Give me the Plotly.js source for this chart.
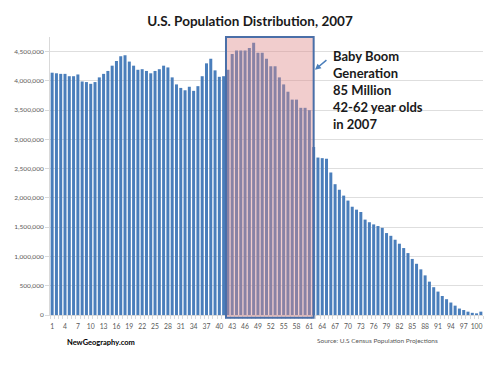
<!DOCTYPE html>
<html>
<head>
<meta charset="utf-8">
<script src="https://cdn.plot.ly/plotly-3.0.1.min.js"></script>
<style>html,body{margin:0;padding:0;background:#fff;}#chart{width:504px;height:366px;}</style>
</head>
<body>
<div id="chart"></div>
<script>
// Age categories (1..101)
const ages = [1,2,3,4,5,6,7,8,9,10,11,12,13,14,15,16,17,18,19,20,
  21,22,23,24,25,26,27,28,29,30,31,32,33,34,35,36,37,38,39,40,
  41,42,43,44,45,46,47,48,49,50,51,52,53,54,55,56,57,58,59,60,
  61,62,63,64,65,66,67,68,69,70,71,72,73,74,75,76,77,78,79,80,
  81,82,83,84,85,86,87,88,89,90,91,92,93,94,95,96,97,98,99,100,101];

// Population by age, 2007
const population = [
  4140000,4130000,4120000,4120000,4080000,4080000,4110000,3990000,3980000,3950000,
  3980000,4060000,4120000,4170000,4260000,4340000,4420000,4440000,4330000,4260000,
  4190000,4200000,4170000,4130000,4170000,4200000,4260000,4230000,4060000,3940000,
  3880000,3840000,3900000,3830000,3910000,4080000,4300000,4380000,4180000,4070000,
  4080000,4190000,4460000,4520000,4520000,4520000,4560000,4650000,4480000,4480000,
  4380000,4250000,4250000,4060000,3940000,3815000,3680000,3680000,3540000,3540000,
  3500000,2870000,2690000,2680000,2670000,2435000,2235000,2140000,2040000,1955000,
  1850000,1800000,1760000,1630000,1585000,1548000,1520000,1490000,1400000,1353000,
  1286000,1218000,1144000,1058000,958000,875000,780000,677000,570000,475000,
  400000,325000,270000,213000,160000,110000,85000,57000,37000,28000,57000];

const xTickVals = [1,4,7,10,13,16,19,22,25,28,31,34,37,40,43,46,49,52,55,58,61,64,67,70,73,76,79,82,85,88,91,94,97,100];
const yTickVals = [0,500000,1000000,1500000,2000000,2500000,3000000,3500000,4000000,4500000];

const boomStart = 41.55, boomEnd = 62.0;

const trace = {
  type: 'bar',
  x: ages,
  y: population,
  marker: {color: '#4a7ebb', line: {width: 0}},
  hoverinfo: 'x+y'
};

const layout = {
  width: 504, height: 366,
  margin: {l: 50.2, r: 21.4, t: 37.3, b: 50.7},
  paper_bgcolor: '#ffffff',
  plot_bgcolor: '#ffffff',
  bargap: 0.3,
  showlegend: false,
  font: {family: 'Lato, "Open Sans", sans-serif', color: '#595959'},
  title: {
    text: 'U.S. Population Distribution, 2007',
    x: 0.496, xanchor: 'center',
    y: 0.941, yanchor: 'middle',
    font: {family: 'Lato, sans-serif', size: 13.5, color: '#1a1a1a', weight: 'bold'}
  },
  xaxis: {
    type: 'linear',
    range: [0.5, 101.5],
    tickmode: 'array',
    tickvals: xTickVals,
    ticktext: xTickVals.map(String),
    ticks: '',
    ticklabelstandoff: 5,
    showgrid: false,
    zeroline: false,
    showline: true,
    linecolor: '#d9d9d9',
    linewidth: 1,
    tickfont: {size: 6.8, color: '#595959'},
    minor: {ticks: 'outside', ticklen: 3, tickcolor: '#d9d9d9', tick0: 0.5, dtick: 1, showgrid: false},
    fixedrange: true
  },
  yaxis: {
    range: [0, 4750000],
    tickmode: 'array',
    tickvals: yTickVals,
    ticktext: yTickVals.map(v => v.toLocaleString('en-US')),
    ticks: 'outside',
    ticklen: 4,
    tickcolor: '#d9d9d9',
    showgrid: true,
    gridcolor: '#dedede',
    gridwidth: 1,
    zeroline: false,
    showline: true,
    linecolor: '#d9d9d9',
    tickfont: {size: 6.5, color: '#595959'},
    fixedrange: true
  },
  shapes: [{
    type: 'rect', xref: 'x', yref: 'paper',
    x0: boomStart, x1: boomEnd, y0: -0.01, y1: 1.0,
    fillcolor: 'rgba(222,137,137,0.42)',
    line: {color: '#4a6fa8', width: 2},
    layer: 'above'
  }],
  annotations: [
    {
      xref: 'x', yref: 'paper', x: 62.3, y: 0.882,
      ax: 13, ay: -11, text: '', showarrow: true,
      arrowhead: 2, arrowsize: 0.8, arrowwidth: 1.5, arrowcolor: '#4a7ebb'
    },
    {
      xref: 'x', yref: 'paper', x: 66.1, y: 0.968,
      xanchor: 'left', yanchor: 'top', align: 'left', showarrow: false,
      text: 'Baby Boom<br>Generation<br>85 Million<br>42-62 year olds<br>in 2007',
      font: {family: 'Lato, sans-serif', size: 13, color: '#1a1a1a', weight: 'bold'}
    },
    {
      xref: 'paper', yref: 'paper', x: 0.034, y: -0.1007,
      xanchor: 'left', yanchor: 'middle', showarrow: false,
      text: 'NewGeography.com',
      font: {family: 'Lato, sans-serif', size: 7.5, color: '#000000', weight: 'bold'}
    },
    {
      xref: 'paper', yref: 'paper', x: 0.612, y: -0.0924,
      xanchor: 'left', yanchor: 'middle', showarrow: false,
      text: 'Source: U.S Census Population Projections',
      font: {family: 'Lato, sans-serif', size: 6.5, color: '#595959'}
    }
  ]
};

Plotly.newPlot('chart', [trace], layout, {displayModeBar: false, staticPlot: true});
</script>
</body>
</html>
